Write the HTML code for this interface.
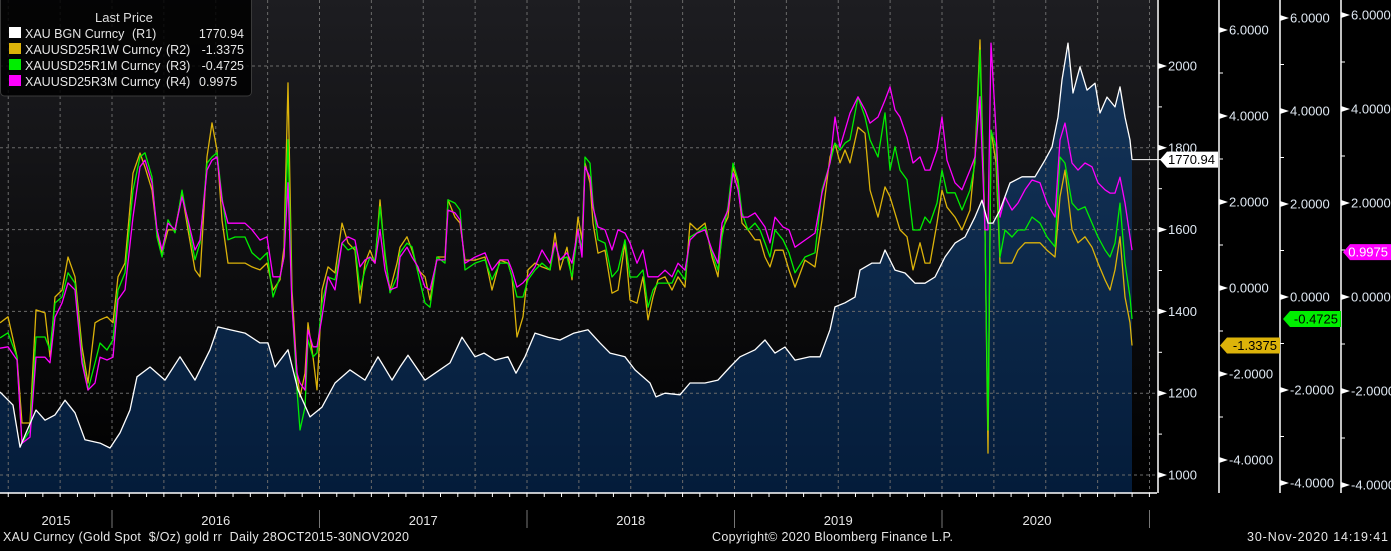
<!DOCTYPE html>
<html><head><meta charset="utf-8"><title>XAU vs gold real rates</title>
<style>
html,body{margin:0;padding:0;background:#000;}
body{width:1391px;height:546px;overflow:hidden;font-family:"Liberation Sans",sans-serif;}
svg text{font-family:"Liberation Sans",sans-serif;white-space:pre;}
</style></head>
<body>
<svg id="chart" width="1391" height="546" viewBox="0 0 1391 546" xmlns="http://www.w3.org/2000/svg">
<defs>
<linearGradient id="bgGrad" x1="0" y1="0" x2="0" y2="1"><stop offset="0" stop-color="#1d1d21"/><stop offset="1" stop-color="#000"/></linearGradient>
<linearGradient id="areaGrad" x1="0" y1="0" x2="0" y2="1"><stop offset="0" stop-color="#15355a"/><stop offset="1" stop-color="#041c3a"/></linearGradient>
</defs>
<rect x="0" y="0" width="1391" height="546" fill="#000"/>
<rect x="0" y="0" width="1157" height="493" fill="url(#bgGrad)"/>
<g id="area"></g>
<g id="grid"></g>
<g id="series"></g>
<g id="axes"></g>
<g>
<rect x="0.5" y="-4" width="251" height="100" rx="4" fill="#000" fill-opacity="0.85" stroke="#3a3a3a"/>
<text x="95" y="22" fill="#ddd" font-size="13">Last Price</text>
<g><rect x="9" y="27" width="12" height="11" fill="#fff"/><text x="25" y="38" fill="#e6e6e6" font-size="12.5">XAU BGN Curncy</text><text x="132" y="38" fill="#e6e6e6" font-size="12.5">(R1)</text><text x="244" y="38" fill="#e6e6e6" font-size="12.5" text-anchor="end">1770.94</text></g>
<g><rect x="9" y="43" width="12" height="11" fill="#dcb30a"/><text x="25" y="54" fill="#e6e6e6" font-size="12.5">XAUUSD25R1W Curncy</text><text x="166" y="54" fill="#e6e6e6" font-size="12.5">(R2)</text><text x="244" y="54" fill="#e6e6e6" font-size="12.5" text-anchor="end">-1.3375</text></g>
<g><rect x="9" y="59" width="12" height="11" fill="#00ee00"/><text x="25" y="70" fill="#e6e6e6" font-size="12.5">XAUUSD25R1M Curncy</text><text x="166" y="70" fill="#e6e6e6" font-size="12.5">(R3)</text><text x="244" y="70" fill="#e6e6e6" font-size="12.5" text-anchor="end">-0.4725</text></g>
<g><rect x="9" y="75" width="12" height="11" fill="#ff00ff"/><text x="25" y="86" fill="#e6e6e6" font-size="12.5">XAUUSD25R3M Curncy</text><text x="166" y="86" fill="#e6e6e6" font-size="12.5">(R4)</text><text x="199" y="86" fill="#e6e6e6" font-size="12.5">0.9975</text></g>
</g>
<text x="3" y="541" fill="#e6e6e6" font-size="12.5" textLength="406" lengthAdjust="spacing">XAU Curncy (Gold Spot  $/Oz) gold rr  Daily 28OCT2015-30NOV2020</text>
<text x="712" y="541" fill="#e6e6e6" font-size="12.5" textLength="241" lengthAdjust="spacing">Copyright© 2020 Bloomberg Finance L.P.</text>
<text x="1247" y="541" fill="#e6e6e6" font-size="12.5" textLength="141" lengthAdjust="spacing">30-Nov-2020 14:19:41</text>
</svg>
<script>
// weeks since start of display window
const goldWeeks=[0,3.25,5,6.5,9,11.25,13.75,16.25,18.75,21.25,
25,27.5,30,32.5,34.25,37.5,41.25,45,48.75,52.5,
54.5,57.5,61.25,65,67,68.75,72,74.5,77.5,80.5,
83.75,87.5,91.25,94.5,98,100,102,106.25,108.75,112.5,
115.5,118.75,121,123.75,127,129,131.25,133.75,137,140,
143.5,147,150,152.5,156.25,158.75,162.5,164,166.25,170,
172.5,176.25,179.5,182.5,185,188.75,191.25,193.75,196.25,198.75,
202.5,205,207.5,208.75,211.25,213.75,215,218,220,221.25,
223.75,226.25,228.75,231.25,233.75,236.25,238.75,241.25,243.75,245.5,
247,248.25,250,252.5,255.5,258.75,261.25,263,264.5,265.5,
267,268.25,270,271.75,273.75,275,276.75,278.75,280,281.25,
282.5,283];
const goldValues=[1203,1171,1068,1103,1159,1134,1147,1183,1152,1086,
1078,1066,1103,1159,1240,1264,1232,1289,1232,1306,
1362,1355,1347,1323,1323,1264,1306,1208,1142,1166,
1225,1257,1232,1289,1232,1264,1293,1232,1249,1274,
1337,1289,1298,1281,1289,1249,1289,1347,1337,1330,
1347,1355,1323,1298,1289,1257,1225,1191,1200,1196,
1225,1225,1232,1264,1289,1306,1330,1298,1313,1281,
1289,1289,1355,1411,1421,1435,1501,1518,1518,1550,
1501,1494,1469,1469,1484,1533,1567,1582,1631,1672,
1616,1616,1648,1714,1729,1729,1770,1802,1875,1966,
2056,1934,1998,1941,1958,1885,1924,1900,1949,1875,
1819,1770.94];
const rrWeeks=[0,2,4.25,5.5,7.5,9,11.25,12.5,13.75,15.5,
17,18.75,20.5,22,23.75,25,26.75,28.25,29.5,31.25,
33.25,35,36.25,38,39.25,40.5,42,43.75,45.5,47,
48.75,50,51.75,53,54.25,55.5,57,58.75,61.25,63,
65,66.75,68.25,70,71,72,73,74.25,75,76.25,
77,78.25,79.25,80.5,82,83.75,85.5,87,88.75,90,
91.25,92.5,93.75,95,96.25,97.5,99.25,100,101.75,103,
104.5,106.25,107.5,109.25,111.25,112,113.75,115,116.25,118.75,
121.25,123,125,127,128,129.25,130.75,132,133.75,135.5,
137.5,138.75,140,141.75,143,144.5,145.5,146.25,147.5,148.25,
149.5,151.25,153,154.5,156.25,157.5,159.25,160.75,162,163.25,
164.5,166.25,168,169.5,171.25,172.5,174.25,176.25,178,179.5,
180.5,182,183.25,184.5,185.5,187,188.75,190,191.25,192.5,
193.75,195.75,197.25,198.75,201.25,203.75,205.5,207.5,208.75,210,
211.25,212.5,214.5,216.25,217.5,219.5,221.25,222.5,223.75,225,
226.75,228.25,230,231.25,232.5,234.25,235.5,236.75,238.75,240.5,
242.5,243.75,245,246.25,247,247.75,249,250,251.25,253,
254.5,256.25,258,260,261.75,263.75,265,266.25,268,269.5,
271.25,273,274.5,276.25,277.5,278.75,280,281.25,282.5,283];
const rr1wValues=[-0.81,-0.67,-1.60,-3.14,-3.14,-0.51,-0.58,-1.60,-0.21,-0.05,
0.72,0.26,-1.37,-2.21,-0.81,-0.74,-0.67,-0.81,0.26,0.58,
2.67,3.14,2.81,2.28,1.28,0.81,1.35,1.35,2.21,1.35,
0.42,0.26,3.05,3.84,3.21,1.58,0.58,0.58,0.58,0.49,
0.42,0.58,-0.05,0.19,0.95,4.77,-0.05,-1.98,-2.53,-1.98,
-0.81,-1.60,-2.37,-0.05,0.49,0.35,1.51,1.05,0.88,-0.35,
0.58,0.88,0.58,2.05,0.72,-0.05,0.58,0.95,1.19,0.88,
0.42,0.26,-0.28,0.72,0.72,2.05,1.65,1.51,0.65,0.65,
0.72,-0.05,0.65,0.58,0.26,-1.14,-0.67,0.42,0.58,0.49,
0.42,1.28,0.42,0.95,0.19,1.65,1.12,2.91,2.44,1.51,
0.81,0.88,-0.12,-0.05,1.05,-0.28,-0.35,0.26,-0.74,-0.21,
0.19,0.26,-0.05,0.26,0.02,1.51,1.35,1.51,0.72,0.26,
1.35,1.65,2.81,2.44,1.51,1.35,1.12,1.12,0.72,0.49,
0.88,0.88,0.42,0.02,0.65,0.49,1.58,3.05,3.37,2.91,
3.21,2.91,3.74,3.60,2.28,1.65,2.35,2.12,1.74,1.35,
1.19,0.42,1.05,0.58,0.58,1.51,2.28,1.88,1.65,1.35,
1.81,3.05,5.77,1.35,-3.84,3.67,2.91,0.58,0.58,0.58,
0.88,1.05,1.05,1.05,0.88,0.72,2.12,2.74,1.35,1.05,
1.19,0.95,0.58,0.19,-0.05,0.42,1.19,-0.21,-0.81,-1.3375];
const rr1mValues=[-0.88,-0.77,-1.29,-3.14,-2.86,-0.86,-0.86,-1.14,-0.13,0.00,
0.52,0.30,-1.29,-2.00,-1.42,-0.99,-1.14,-0.92,0.15,0.52,
2.30,3.01,3.10,2.58,1.29,0.86,1.66,1.38,2.30,1.59,
0.80,1.16,2.88,3.01,3.10,2.15,1.23,1.29,1.29,0.95,
0.80,0.95,0.00,0.43,0.86,3.38,-0.13,-2.00,-2.86,-2.37,
-0.92,-1.29,-1.20,-0.13,0.43,0.37,1.16,1.01,1.08,0.15,
0.58,0.86,0.80,1.94,0.95,0.09,0.43,0.95,1.16,1.08,
0.52,-0.13,-0.22,0.86,0.73,2.09,2.02,1.87,0.58,0.73,
0.80,0.37,0.73,0.73,0.43,0.00,0.00,0.37,0.58,0.73,
0.58,1.16,0.80,0.86,0.43,1.44,1.01,3.01,2.88,2.02,
1.23,1.16,0.43,0.58,1.23,0.43,0.43,0.58,-0.22,0.15,
0.30,0.30,0.30,0.58,0.37,1.29,1.38,1.51,0.95,0.58,
1.29,1.94,2.88,2.52,1.81,1.44,1.59,1.44,1.16,0.86,
1.44,1.23,0.95,0.52,0.86,0.95,2.30,2.88,3.31,3.16,
3.31,3.38,4.30,3.87,3.38,3.01,3.96,2.73,3.23,2.73,
2.52,1.44,1.44,1.72,1.59,2.02,2.73,2.24,2.24,1.87,
2.30,2.88,5.31,1.44,-2.86,3.59,3.23,0.86,1.44,1.29,
1.44,1.44,1.72,1.59,1.29,1.08,3.01,2.88,2.02,1.87,
1.94,1.59,1.29,1.01,0.86,1.16,2.02,0.73,0.00,-0.4725];
const rr3mValues=[-1.09,-1.06,-1.34,-3.11,-2.98,-1.28,-1.28,-1.40,-0.43,-0.13,
0.30,0.15,-1.40,-1.98,-1.83,-1.28,-1.34,-1.28,-0.06,0.15,
1.70,2.77,2.91,2.43,1.43,1.00,1.57,1.43,2.13,1.64,
1.00,1.21,2.70,2.91,2.98,2.06,1.57,1.57,1.57,1.43,
1.21,1.28,0.43,0.43,0.85,2.43,-0.21,-1.62,-1.83,-1.98,
-0.70,-1.06,-1.06,-0.43,0.43,0.15,1.15,1.28,1.21,0.64,
0.79,0.85,0.72,1.43,0.57,0.15,0.21,0.85,1.06,0.85,
0.64,0.21,0.15,0.79,0.79,1.85,1.79,1.64,0.72,0.85,
0.94,0.57,0.79,0.79,0.57,0.21,0.30,0.43,0.64,1.00,
0.72,1.15,0.79,0.94,0.72,1.43,0.85,2.77,2.55,1.91,
1.49,1.43,1.00,1.43,1.36,1.15,0.72,1.00,0.43,0.43,
0.43,0.57,0.43,0.72,0.57,1.21,1.36,1.43,1.00,0.72,
1.57,1.85,2.64,2.28,1.70,1.70,1.79,1.64,1.49,1.15,
1.70,1.49,1.43,1.06,1.21,1.36,2.21,2.85,3.83,3.19,
3.55,3.91,4.26,3.98,3.70,3.83,4.19,4.47,3.98,3.83,
3.40,2.85,2.98,2.70,2.70,3.13,3.83,2.91,2.43,2.28,
2.70,2.98,4.26,1.43,1.43,5.40,3.55,1.70,2.13,1.85,
2.00,2.28,2.49,2.43,2.00,1.70,3.34,3.70,2.85,2.70,
2.85,2.77,2.43,2.28,2.21,2.21,2.55,2.00,1.28,0.9975];
const goldTicks=["2000","1800","1600","1400","1200","1000"];
const rrTicks=["6.0000","4.0000","2.0000","0.0000","-2.0000","-4.0000"];
const yearLabels=["2015","2016","2017","2018","2019","2020"];

const NS="http://www.w3.org/2000/svg";
const PX_PER_WEEK=4, PLOT_R=1157, PLOT_B=493;
const xScale=w=>w*PX_PER_WEEK;
const yGold=v=>66+(2000-v)*0.409;
const y1w=v=>288-43*v;
const y1m=v=>297-46.5*v;
const y3m=v=>297-47*v;
const yearX=i=>112+(i-1)*207.5;
function mk(tag,attrs,parent){const e=document.createElementNS(NS,tag);for(const k in attrs)e.setAttribute(k,attrs[k]);parent.appendChild(e);return e;}

const areaG=document.getElementById('area'),gridG=document.getElementById('grid'),serG=document.getElementById('series'),axG=document.getElementById('axes');

let pts=goldWeeks.map((w,i)=>xScale(w).toFixed(1)+','+yGold(goldValues[i]).toFixed(1));
const area=mk('polygon',{points:pts.join(' ')+' '+xScale(goldWeeks[goldWeeks.length-1])+','+PLOT_B+' 0,'+PLOT_B,fill:'url(#areaGrad)'},areaG);



goldTicks.forEach(t=>{const y=yGold(+t);const l=mk('line',{x1:0,x2:PLOT_R,y1:y,y2:y,stroke:'#6a6a6a','stroke-dasharray':'3,3','stroke-width':1},gridG);

});
for(let k=-2;k<=20;k++){const x=112+k*51.875;if(x<0||x>PLOT_R)continue;const l=mk('line',{x1:x,x2:x,y1:0,y2:PLOT_B,stroke:'#6a6a6a','stroke-dasharray':'3,3','stroke-width':1},gridG);

}

function line(weeks,vals,ys,color,name){const p=weeks.map((w,i)=>xScale(w).toFixed(1)+','+ys(vals[i]).toFixed(1)).join(' ');const e=mk('polyline',{points:p,fill:'none',stroke:color,'stroke-width':1.3,'stroke-linejoin':'round'},serG);

}
line(rrWeeks,rr1wValues,y1w,'#dcb30a','series-rr-1w');
line(rrWeeks,rr1mValues,y1m,'#00ee00','series-rr-1m');
line(rrWeeks,rr3mValues,y3m,'#ff00ff','series-rr-3m');
line(goldWeeks,goldValues,yGold,'#ffffff','series-gold');
const lastX=xScale(goldWeeks[goldWeeks.length-1]),lastY=yGold(goldValues[goldValues.length-1]);
const gl=mk('line',{x1:lastX,x2:PLOT_R+4,y1:lastY,y2:lastY,stroke:'#fff','stroke-width':1},serG);



const ba=mk('line',{x1:0,x2:PLOT_R,y1:PLOT_B,y2:PLOT_B,stroke:'#fff','stroke-width':1.5},axG);


for(let k=-7;k<=62;k++){const x=112+k*17.29;if(x<0||x>PLOT_R)continue;const t=mk('line',{x1:x,x2:x,y1:PLOT_B,y2:PLOT_B+4,stroke:'#fff'},axG);

}
yearLabels.forEach((lab,i)=>{const x0=i===0?0:yearX(i),x1=Math.min(yearX(i+1),1132);const t=mk('text',{x:(x0+x1)/2,y:525,fill:'#e6e6e6','font-size':13,'text-anchor':'middle'},axG);t.textContent=lab;


const sx=yearX(i+1);const s=mk('line',{x1:sx,x2:sx,y1:510,y2:528,stroke:'#777'},axG);

});

function rightAxis(x,ys,ticks,name,minorOffsets){
 const a=mk('line',{x1:x,x2:x,y1:0,y2:PLOT_B,stroke:'#fff','stroke-width':1.5},axG);
 
 
 ticks.forEach(t=>{const y=ys(parseFloat(t));
  const tri=mk('polygon',{points:`${x},${y-3} ${x+9},${y} ${x},${y+3}`,fill:'#fff'},axG);
  
  
  const tx=mk('text',{x:x+10,y:y+4.5,fill:'#dfe8f2','font-size':13},axG);tx.textContent=t;
  
  
  const m=ys(parseFloat(t)-minorOffsets);if(m<PLOT_B){const ml=mk('line',{x1:x,x2:x+4,y1:m,y2:m,stroke:'#fff'},axG);
  
  }
 });
}
rightAxis(1158,yGold,goldTicks,'axis-r1',100);
rightAxis(1219,y1w,rrTicks,'axis-r2',1);
rightAxis(1280,y1m,rrTicks,'axis-r3',1);
rightAxis(1341,y3m,rrTicks,'axis-r4',1);

function badge(x,w,y,fill,txtColor,label,name){
 const p=mk('polygon',{points:`${x},${y} ${x+7},${y-8} ${x+w},${y-8} ${x+w},${y+8} ${x+7},${y+8}`,fill:fill},axG);
 
 
 const t=mk('text',{x:x+w-3,y:y+4.5,fill:txtColor,'font-size':13,'text-anchor':'end'},axG);t.textContent=label;
 
 
}
badge(1160,58,yGold(goldValues[goldValues.length-1]),'#fff','#000','1770.94','badge-gold');
badge(1220,60,y1w(rr1wValues[rr1wValues.length-1]),'#dcb30a','#000','-1.3375','badge-rr-1w');
badge(1283,58,y1m(rr1mValues[rr1mValues.length-1]),'#00ee00','#000','-0.4725','badge-rr-1m');
badge(1343,48,y3m(rr3mValues[rr3mValues.length-1])+2,'#ff00ff','#fff','0.9975','badge-rr-3m');
</script>
</body></html>
